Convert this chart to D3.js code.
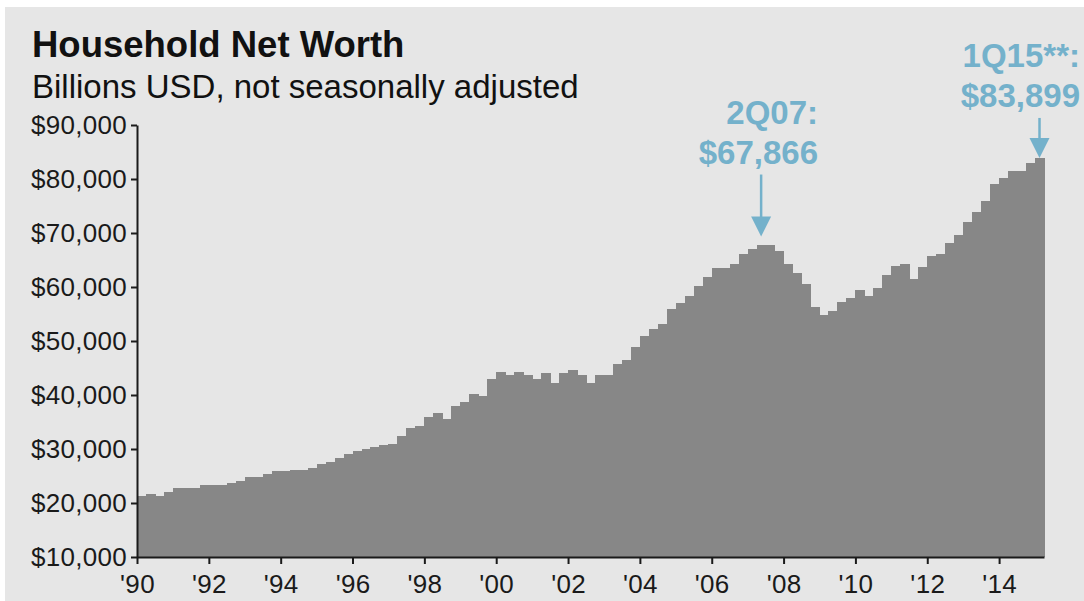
<!DOCTYPE html>
<html>
<head>
<meta charset="utf-8">
<script src="https://cdn.jsdelivr.net/npm/d3@7"></script>
<style>
  body { margin: 0; background: #ffffff; }
  svg { display: block; font-family: "Liberation Sans", Arial, sans-serif; }
  .axis path, .axis line { stroke: #1a1a1a; stroke-width: 2; }
  .axis text { fill: #1a1a1a; font-size: 26px; letter-spacing: 0.3px; }
</style>
</head>
<body>
<svg id="chart" width="1084" height="601"></svg>
<script>
// quarterly household net worth, billions USD, 1Q90 .. 1Q15
const startYear = 1990
const netWorth = [
  21250, 21620, 21250, 21980, 22710, 22710, 22710, 23420, 23420, 23420,
  23790, 24150, 24830, 24830, 25450, 25880, 25880, 26200, 26200, 26560,
  27180, 27670, 28340, 29030, 29710, 30080, 30450, 30760, 31010, 32420,
  33900, 34220, 35930, 36680, 35640, 37980, 38790, 40210, 39830, 42920,
  44340, 43720, 44340, 43720, 42990, 44040, 42300, 44040, 44650, 43720,
  42300, 43720, 43720, 45800, 46520, 48920, 51000, 52130, 53170, 55950,
  56990, 58340, 60110, 61840, 63570, 63570, 64320, 66030, 67100, 67866,
  67750, 66700, 64320, 62570, 60470, 56250, 54820, 55580, 57300, 57990,
  59400, 58370, 59780, 62250, 63980, 64320, 61520, 63620, 65720, 66080,
  68200, 69610, 72100, 73810, 75910, 79130, 80110, 81540, 81540, 82960,
  83899
]
const yTicks = [10000, 20000, 30000, 40000, 50000, 60000, 70000, 80000, 90000]
const xTickYears = [1990, 1992, 1994, 1996, 1998, 2000, 2002, 2004, 2006, 2008, 2010, 2012, 2014]
const calloutQuarters = ['2Q07', '1Q15']
const calloutLines = [['2Q07:', '$67,866'], ['1Q15**:', '$83,899']]

const quarters = netWorth.map((d, i) =>
  (i % 4 + 1) + 'Q' + String(startYear + Math.floor(i / 4)).slice(2))

const margin = { left: 137, right: 40, top: 125, bottom: 44 }
const width = 1084, height = 601
const plotW = width - margin.left - margin.right
const plotH = height - margin.top - margin.bottom

const svg = d3.select('#chart')

svg.append('rect')
  .attr('x', 5).attr('y', 7)
  .attr('width', width - 5).attr('height', height - 7)
  .attr('fill', '#e6e6e6')

svg.append('text')
  .attr('x', 32).attr('y', 57)
  .attr('font-size', '36.5px').attr('font-weight', 'bold').attr('fill', '#111')
  .text('Household Net Worth')

svg.append('text')
  .attr('x', 32).attr('y', 98)
  .attr('font-size', '33px').attr('fill', '#111')
  .text('Billions USD, not seasonally adjusted')

const g = svg.append('g')
  .attr('transform', 'translate(' + margin.left + ',' + margin.top + ')')

const x = d3.scaleBand().domain(quarters).range([0, plotW]).padding(0)
const xYear = d3.scaleLinear()
  .domain([startYear, startYear + quarters.length / 4])
  .range([0, plotW])
const y = d3.scaleLinear().domain([10000, 90000]).range([plotH, 0])

g.append('g')
  .attr('shape-rendering', 'crispEdges')
  .selectAll('.bar')
  .data(netWorth)
  .join('rect')
  .attr('class', 'bar')
  .attr('x', (d, i) => x(quarters[i]))
  .attr('width', x.bandwidth() + 0.6)
  .attr('y', d => y(d))
  .attr('height', d => plotH - y(d))
  .attr('fill', '#878787')

g.append('g')
  .attr('class', 'axis')
  .call(d3.axisLeft(y).tickValues(yTicks).tickSize(6).tickSizeOuter(0).tickPadding(4)
    .tickFormat(d => '$' + d3.format(',')(d)))

g.append('g')
  .attr('class', 'axis')
  .attr('transform', 'translate(0,' + plotH + ')')
  .call(d3.axisBottom(xYear).tickValues(xTickYears).tickSize(7).tickSizeOuter(0).tickPadding(11)
    .tickFormat(d => "'" + String(d).slice(2)))

// callouts
const blue = '#74b1cb'
const callouts = calloutQuarters.map((q, k) => {
  const i = quarters.indexOf(q)
  return { q, v: netWorth[i], lines: calloutLines[k] }
})
const calloutLayout = [
  { textRight: 818, gap: 8, arrowLen: 62 },
  { textRight: 1080, gap: 0, arrowLen: 40 }
]

callouts.forEach((c, k) => {
  const lay = calloutLayout[k]
  const cx = margin.left + x(c.q) + x.bandwidth() / 2
  const tip = margin.top + y(c.v) - lay.gap
  const top = tip - lay.arrowLen
  const head = 20

  svg.append('line')
    .attr('x1', cx).attr('x2', cx)
    .attr('y1', top).attr('y2', tip - head + 2)
    .attr('stroke', blue).attr('stroke-width', 2.5)
  svg.append('path')
    .attr('d', 'M' + (cx - 10) + ',' + (tip - head) + 'L' + (cx + 10) + ',' + (tip - head) + 'L' + cx + ',' + tip + 'Z')
    .attr('fill', blue)

  const t = svg.append('text')
    .attr('text-anchor', 'end')
    .attr('font-size', '33px').attr('font-weight', 'bold').attr('fill', blue)
  c.lines.forEach((s, j) => {
    t.append('tspan')
      .attr('x', lay.textRight)
      .attr('y', top - 11 - (c.lines.length - 1 - j) * 40)
      .text(s)
  })
})
</script>
</body>
</html>
